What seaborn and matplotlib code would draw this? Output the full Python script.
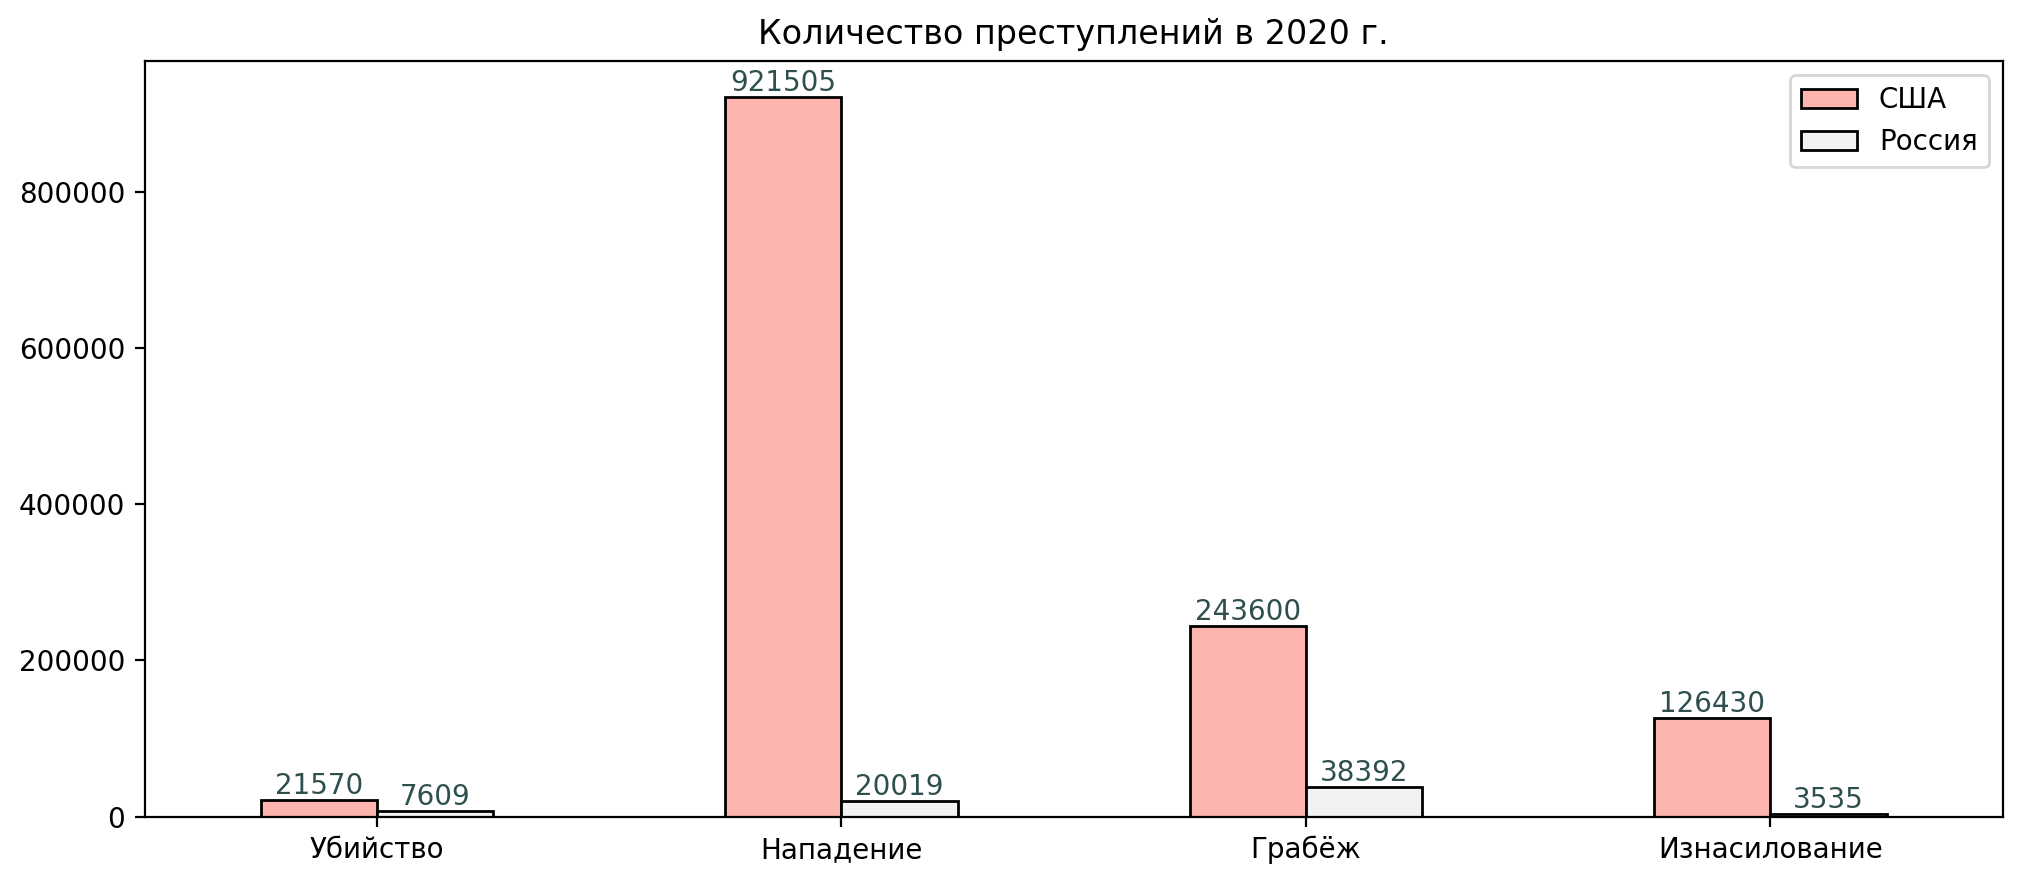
import matplotlib
matplotlib.use("Agg")
import matplotlib.pyplot as plt
import seaborn as sns
import pandas as pd

# данные
crimes = ["Убийство", "Нападение", "Грабёж", "Изнасилование"]
usa = [21570, 921505, 243600, 126430]
russia = [7609, 20019, 38392, 3535]
countries = ["США", "Россия"]
colors = ["#fbb4ae", "#f2f2f2"]

df = pd.DataFrame({
    "Преступление": crimes * 2,
    "Количество": usa + russia,
    "Страна": [countries[0]] * len(crimes) + [countries[1]] * len(crimes),
})

fig, ax = plt.subplots(figsize=(10.125, 4.425), dpi=200)
fig.subplots_adjust(left=0.0714, right=0.989, top=0.931, bottom=0.0774)

sns.barplot(data=df, x="Преступление", y="Количество", hue="Страна",
            palette=colors, width=0.5, edgecolor="black", linewidth=1,
            saturation=1, ax=ax)

for cont in ax.containers:
    ax.bar_label(cont, color="darkslategray", fontsize=10, padding=0)

ax.set_xlim(-0.5, len(crimes) - 0.5)
ax.set_ylim(0, max(usa) * 1.05)
ax.set_xlabel("")
ax.set_ylabel("")
ax.set_title("Количество преступлений в 2020 г.")
ax.legend(loc="upper right", title=None)

plt.savefig("out.png", dpi=200)
